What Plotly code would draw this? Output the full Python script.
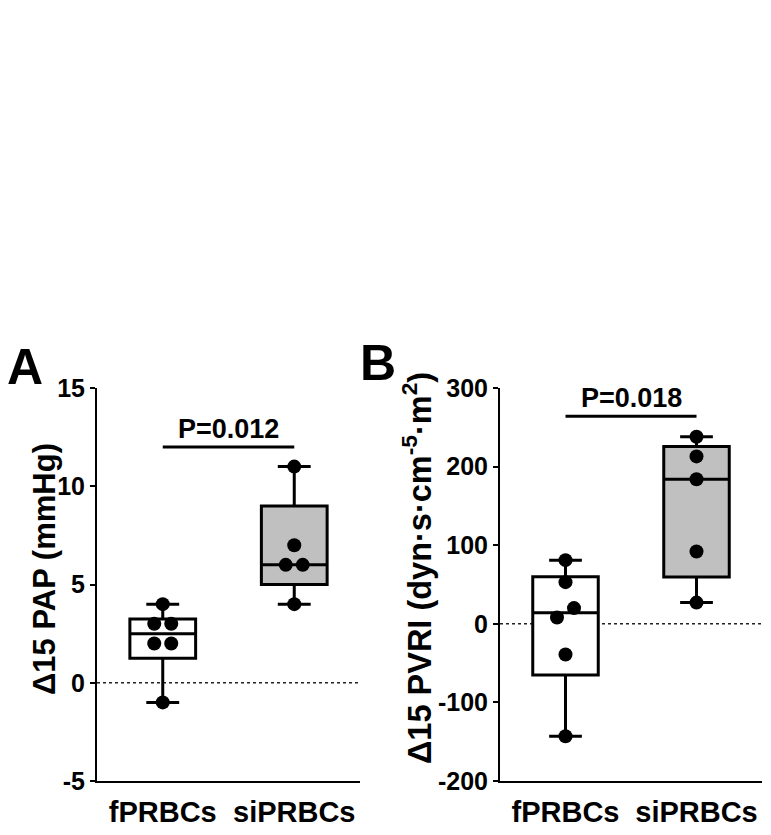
import math
import plotly.graph_objects as go

# ---- data ----
categories = ["fPRBCs", "siPRBCs"]
pap_fprbcs = [4, 3, 3, 2, 2, -1]
pap_siprbcs = [11, 7, 6, 6, 4]
pvri_fprbcs = [81, 53, 20, 8, -39, -143]
pvri_siprbcs = [238, 213, 184, 92, 27]
pap_ticks = [-5, 0, 5, 10, 15]
pvri_ticks = [-200, -100, 0, 100, 200, 300]
pap_p_text = "P=0.012"
pvri_p_text = "P=0.018"
pap_bracket_y = 12
pvri_bracket_y = 264

# page has an 8px body margin: size the figure to fit and convert page px
OFF = 8
W, H = 771 - OFF, 835 - OFF
FONT = "Liberation Sans"

def quant(vals, p):
    s = sorted(vals)
    n = len(s)
    pos = p * (n + 1)
    lo = int(math.floor(pos))
    frac = pos - lo
    if lo < 1:
        return s[0]
    if lo >= n:
        return s[-1]
    return s[lo - 1] + frac * (s[lo] - s[lo - 1])

def px(x):
    return (x - OFF) / W

def py(y):
    return 1 - (y - OFF) / H

panels = [
    dict(xa="x", ya="y", xdom=[px(97), px(360)], ydom=[py(781), py(388)],
         rng=[-5, 15], ticks=pap_ticks, groups=[pap_fprbcs, pap_siprbcs],
         p=pap_p_text, by=pap_bracket_y),
    dict(xa="x2", ya="y2", xdom=[px(500), px(762)], ydom=[py(781), py(388)],
         rng=[-200, 300], ticks=pvri_ticks, groups=[pvri_fprbcs, pvri_siprbcs],
         p=pvri_p_text, by=pvri_bracket_y),
]

fills = ["white", "#c0c0c0"]
MARK = 14
fig = go.Figure()

def swarm(vals, unit_px_y, unit_px_x):
    # spread points whose pixel distance is smaller than a marker diameter
    idx = sorted(range(len(vals)), key=lambda i: vals[i])
    offs = [0.0] * len(vals)
    groups = []
    cur = [idx[0]]
    for i in idx[1:]:
        if abs(vals[i] - vals[cur[-1]]) * unit_px_y < MARK:
            cur.append(i)
        else:
            groups.append(cur)
            cur = [i]
    groups.append(cur)
    spacing = 17 / unit_px_x
    for g in groups:
        k = len(g)
        for j, i in enumerate(g):
            offs[i] = (j - (k - 1) / 2) * spacing
    return offs

for pi, pn in enumerate(panels):
    xa, ya = pn["xa"], pn["ya"]
    dom_h = (pn["ydom"][1] - pn["ydom"][0]) * H
    dom_w = (pn["xdom"][1] - pn["xdom"][0]) * W
    upy = dom_h / (pn["rng"][1] - pn["rng"][0])
    upx = dom_w / 2.0
    for gi, vals in enumerate(pn["groups"]):
        xpos = gi + 1
        fig.add_trace(go.Box(
            x=[xpos], q1=[quant(vals, 0.25)], median=[quant(vals, 0.5)],
            q3=[quant(vals, 0.75)], lowerfence=[min(vals)], upperfence=[max(vals)],
            width=0.5, whiskerwidth=0.5, fillcolor=fills[gi],
            line=dict(color="black", width=3), boxpoints=False,
            xaxis=xa, yaxis=ya, showlegend=False, hoverinfo="skip"))
        offs = swarm(vals, upy, upx)
        fig.add_trace(go.Scatter(
            x=[xpos + o for o in offs], y=vals, mode="markers",
            marker=dict(color="black", size=MARK, line=dict(width=0)),
            xaxis=xa, yaxis=ya, showlegend=False, hoverinfo="skip"))
    # zero dotted line
    fig.add_shape(type="line", xref=f"{xa} domain", yref=ya, x0=0, x1=1, y0=0, y1=0,
                  line=dict(color="#222", width=1.5, dash="dot"), layer="below")
    # significance bracket
    fig.add_shape(type="line", xref=xa, yref=ya, x0=1, x1=2, y0=pn["by"], y1=pn["by"],
                  line=dict(color="black", width=3))
    fig.add_annotation(x=1.5, y=pn["by"], xref=xa, yref=ya, text=pn["p"],
                       showarrow=False, xanchor="center", yanchor="bottom", yshift=1,
                       font=dict(family=FONT, size=27, color="black", weight="bold"))

axis_common_x = dict(range=[0.5, 2.5], tickvals=[1, 2], ticktext=categories,
                     showline=True, linecolor="black", linewidth=2, ticks="",
                     showgrid=False, zeroline=False, automargin=False,
                     ticklabelstandoff=4,
                     tickfont=dict(family=FONT, size=29, color="black", weight="bold"))
axis_common_y = dict(showline=True, linecolor="black", linewidth=2, ticks="outside",
                     ticklen=5, tickwidth=2, tickcolor="black", showgrid=False,
                     zeroline=False, automargin=False,
                     tickfont=dict(family=FONT, size=25, color="black", weight="bold"))

fig.update_layout(
    width=W, height=H, margin=dict(l=0, r=0, t=0, b=0),
    paper_bgcolor="white", plot_bgcolor="white",
    xaxis=dict(domain=panels[0]["xdom"], anchor="y", **axis_common_x),
    yaxis=dict(domain=panels[0]["ydom"], anchor="x", range=panels[0]["rng"],
               tickvals=pap_ticks, ticktext=[str(v) for v in pap_ticks],
               **axis_common_y),
    xaxis2=dict(domain=panels[1]["xdom"], anchor="y2", **axis_common_x),
    yaxis2=dict(domain=panels[1]["ydom"], anchor="x2", range=panels[1]["rng"],
                tickvals=pvri_ticks, ticktext=[str(v) for v in pvri_ticks],
                **axis_common_y),
)

fig.add_annotation(x=px(44), y=py(569), xref="paper", yref="paper", textangle=-90,
                   xanchor="center", yanchor="middle",
                   text="Δ15 PAP (mmHg)", showarrow=False,
                   font=dict(family=FONT, size=31, color="black", weight="bold"))
fig.add_annotation(x=px(417), y=py(568), xref="paper", yref="paper", textangle=-90,
                   xanchor="center", yanchor="middle",
                   text="Δ15 PVRI (dyn·s·cm<sup>-5</sup>·m<sup>2</sup>)",
                   showarrow=False,
                   font=dict(family=FONT, size=32.5, color="black", weight="bold"))
letter_font = dict(family=FONT, size=50, color="black", weight="bold")
fig.add_annotation(x=px(25), y=py(367), xref="paper", yref="paper", text="A",
                   xanchor="center", yanchor="middle",
                   showarrow=False, font=letter_font)
fig.add_annotation(x=px(378), y=py(363), xref="paper", yref="paper", text="B",
                   xanchor="center", yanchor="middle",
                   showarrow=False, font=letter_font)

fig.write_html("out.html")
